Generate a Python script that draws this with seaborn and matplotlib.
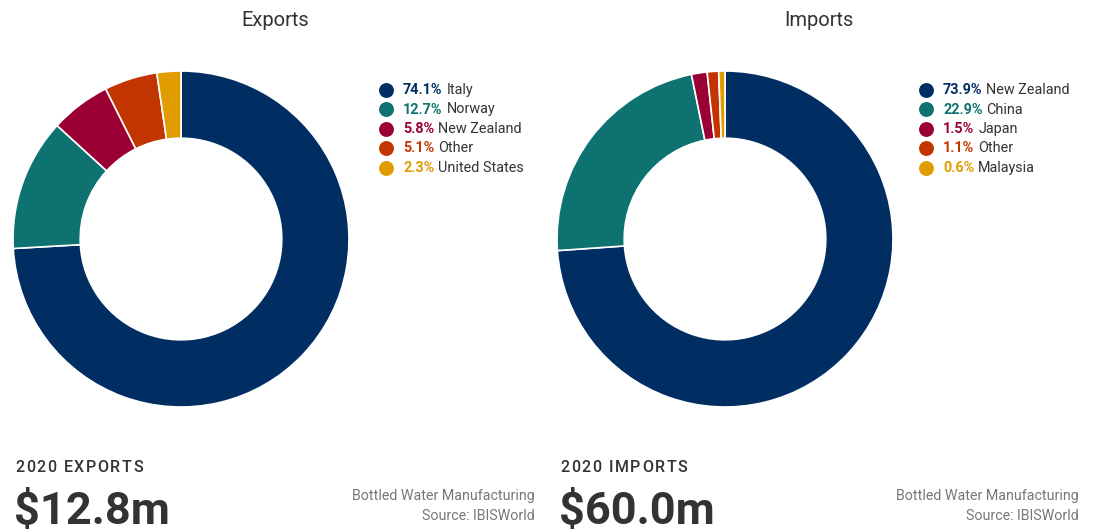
import matplotlib
matplotlib.use("Agg")
import matplotlib.pyplot as plt
import seaborn as sns

sns.set_theme(style="white")
plt.rcParams["font.family"] = ["Roboto", "DejaVu Sans"]

# Trade shares, 2020
export_partners = ["Italy", "Norway", "New Zealand", "Other", "United States"]
export_shares = [74.1, 12.7, 5.8, 5.1, 2.3]
import_partners = ["New Zealand", "China", "Japan", "Other", "Malaysia"]
import_shares = [73.9, 22.9, 1.5, 1.1, 0.6]

panel_titles = ["Exports", "Imports"]
total_labels = ["2020 EXPORTS", "2020 IMPORTS"]
total_values = ["$12.8m", "$60.0m"]
source_lines = ["Bottled Water Manufacturing", "Source: IBISWorld"]

palette = sns.color_palette(["#002d62", "#0e7370", "#9b0034", "#c23400", "#e09c00"])

W, H = 1095, 531
fig = plt.figure(figsize=(W / 100, H / 100), dpi=100)
fig.patch.set_facecolor("white")

# overlay axes in pixel coordinates for text and legend markers
ov = fig.add_axes([0, 0, 1, 1], zorder=5)
ov.set_xlim(0, W)
ov.set_ylim(H, 0)
ov.axis("off")
ov.patch.set_alpha(0)

panels = [
    dict(names=export_partners, shares=export_shares, cx=181, title_x=275,
         leg_x=386, left=15, right=535),
    dict(names=import_partners, shares=import_shares, cx=725, title_x=819,
         leg_x=926, left=560, right=1079),
]
cy, R = 239, 168

fig.canvas.draw()
renderer = fig.canvas.get_renderer()


def right_edge_px(artist):
    bb = artist.get_window_extent(renderer=renderer)
    return bb.x1


def tracked_text(x, y, s, tracking, **kw):
    """Draw a string character by character with extra letter spacing."""
    for ch in s:
        t = ov.text(x, y, ch, ha="left", va="center", **kw)
        x = right_edge_px(t) + tracking if ch != " " else x + 4 + tracking


for i, p in enumerate(panels):
    ax = fig.add_axes([(p["cx"] - R) / W, (H - cy - R) / H, 2 * R / W, 2 * R / H])
    ax.pie(p["shares"], colors=palette, startangle=90, counterclock=False,
           radius=1.0,
           wedgeprops=dict(width=0.4, edgecolor="white", linewidth=1.2))
    ax.set_xlim(-1, 1)
    ax.set_ylim(-1, 1)
    ax.set_aspect("equal")
    ax.axis("off")

    ov.text(p["title_x"], 20, panel_titles[i], ha="center", va="center",
            fontsize=14.5, color="#333333")

    # legend rows
    for j, (name, share) in enumerate(zip(p["names"], p["shares"])):
        y = 90 + j * 19.5
        ov.scatter([p["leg_x"]], [y - 0.5], s=115, color=palette[j], zorder=6,
                   linewidths=0)
        t = ov.text(p["leg_x"] + 17, y, f"{share:.1f}%", ha="left", va="center",
                    fontsize=10.4, fontweight="bold", color=palette[j])
        ov.text(right_edge_px(t) + 4, y, name, ha="left", va="center",
                fontsize=10.4, color="#333333")

    tracked_text(p["left"], 467, total_labels[i], 1.6,
                 fontsize=11.5, fontweight="medium", color="#333333")
    ov.text(p["left"] - 1, 524, total_values[i], ha="left", va="baseline",
            fontsize=32.5, fontweight="bold", color="#333333")
    ov.text(p["right"], 496, source_lines[0], ha="right", va="center",
            fontsize=10.3, color="#777777")
    ov.text(p["right"], 516, source_lines[1], ha="right", va="center",
            fontsize=10.3, color="#777777")

fig.savefig("out.png", dpi=100, facecolor="white")
